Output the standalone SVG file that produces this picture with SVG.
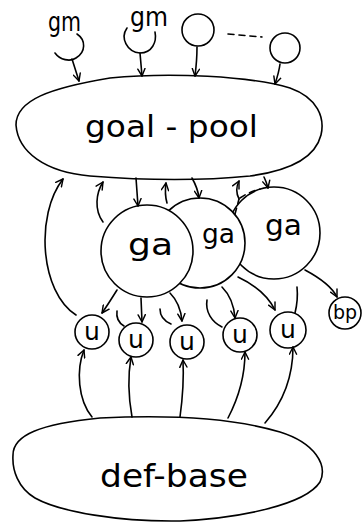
<svg xmlns="http://www.w3.org/2000/svg" width="364" height="523" viewBox="0 0 364 523">
<style>
.ln{fill:none;stroke:#000;stroke-width:1.6;stroke-linecap:round;stroke-linejoin:round}
.nd{fill:#fff;stroke:#000;stroke-width:1.6}
.tx{font-family:"DejaVu Sans","Liberation Sans",sans-serif;fill:#000}
.ut{font-family:"DejaVu Sans","Liberation Sans",sans-serif;font-size:25px;text-anchor:middle;fill:#000}
.ar{marker-end:url(#ah)}
.da{stroke-dasharray:6 5}
</style>
<defs>
<marker id="ah" viewBox="0 0 10 10" refX="9" refY="5" markerWidth="9" markerHeight="9" orient="auto" markerUnits="userSpaceOnUse">
<path d="M1,1 L9,5 L1,9" fill="none" stroke="#000" stroke-width="1.6" stroke-linecap="round" stroke-linejoin="round"/>
</marker>
</defs>
<rect width="364" height="523" fill="#fff"/>

<g id="gm1">
<text class="tx" x="48" y="31" font-size="26" textLength="33" lengthAdjust="spacingAndGlyphs">gm</text>
<path class="ln" d="M77,34 C86,40 86,52 76,58 C70,62 60,60 55,53"/>
</g>
<g id="gm2">
<text class="tx" x="130" y="26" font-size="26" textLength="38" lengthAdjust="spacingAndGlyphs">gm</text>
<path class="ln" d="M127,28 C120,38 127,52 140,53 C152,53 157,42 155,32"/>
</g>
<g id="m3"><circle class="nd" cx="198" cy="30" r="16"/></g>
<g id="m4"><circle class="nd" cx="285" cy="48" r="15"/></g>

<g id="goal-pool">
<path class="nd" d="M16,125 C16,100 50,88 110,78 C170,72 250,76 290,88 C318,98 325,118 321,135 C316,155 295,170 250,176 C200,181 140,180 90,176 C45,172 18,152 16,125 Z"/>
<text class="tx" x="85" y="137" font-size="30" textLength="173" lengthAdjust="spacingAndGlyphs">goal - pool</text>
</g>

<g id="ga3">
<circle class="nd" cx="274" cy="233" r="46"/>
<text class="tx" x="265" y="235" font-size="28" textLength="37" lengthAdjust="spacingAndGlyphs">ga</text>
</g>
<g id="ga2">
<circle class="nd" cx="200" cy="243" r="45"/>
<text class="tx" x="202" y="243" font-size="26" textLength="33" lengthAdjust="spacingAndGlyphs">ga</text>
</g>
<g id="ga1">
<circle class="nd" cx="147" cy="251" r="46"/>
<text class="tx" x="128" y="255" font-size="30" textLength="45" lengthAdjust="spacingAndGlyphs">ga</text>
</g>

<g id="u1"><circle class="nd" cx="92" cy="332" r="17"/><text class="ut" x="92" y="340">u</text></g>
<g id="u2"><circle class="nd" cx="136" cy="340" r="17"/><text class="ut" x="136" y="348">u</text></g>
<g id="u3"><circle class="nd" cx="187" cy="342" r="17"/><text class="ut" x="187" y="350">u</text></g>
<g id="u4"><circle class="nd" cx="240" cy="335" r="17"/><text class="ut" x="240" y="343">u</text></g>
<g id="u5"><circle class="nd" cx="288" cy="330" r="18"/><text class="ut" x="288" y="338">u</text></g>
<g id="bp"><circle class="nd" cx="345" cy="313" r="16"/><text class="ut" x="345" y="319" style="font-size:19px">bp</text></g>

<g id="def-base">
<path class="nd" d="M13,455 C13,435 40,424 100,418 C160,415 230,417 280,432 C315,443 328,465 320,482 C305,505 240,518 180,521 C120,522 60,512 35,498 C18,488 12,470 13,455 Z"/>
<text class="tx" x="100" y="487" font-size="32" textLength="148" lengthAdjust="spacingAndGlyphs">def-base</text>
</g>

<g id="connectors">
<path class="ln ar" d="M72,59 L79,81"/>
<path class="ln ar" d="M140,53 L142,76"/>
<path class="ln ar" d="M197,47 C197,58 196,68 195,76"/>
<path class="ln ar" d="M280,64 C279,72 277,78 275,84"/>
<path class="ln da" d="M228,34 L262,37"/>

<path class="ln ar" d="M76,315 C40,292 35,215 63,179"/>
<path class="ln ar" d="M103,222 C94,210 96,193 103,182"/>
<path class="ln ar" d="M136,178 L138,206"/>
<path class="ln ar" d="M167,203 C165,196 165,190 166,183"/>
<path class="ln ar" d="M192,178 C196,185 198,190 199,198"/>
<path class="ln ar" d="M239,199 C236,193 236,187 239,181"/>
<path class="ln da" d="M235,214 L239,199"/>
<path class="ln da" d="M240,198 C246,194 252,191 260,189"/>
<path class="ln ar" d="M264,177 C266,181 267,184 268,188"/>

<path class="ln ar" d="M117,290 C112,298 107,306 102,313"/>
<path class="ln ar" d="M141,298 L142,322"/>
<path class="ln ar" d="M170,293 C177,300 181,310 182,321"/>
<path class="ln ar" d="M222,287 C230,295 234,305 235,318"/>
<path class="ln ar" d="M238,277 C255,285 268,296 275,310"/>
<path class="ln ar" d="M305,270 C320,278 332,287 337,297"/>

<path class="ln" d="M117,311 C116,318 119,323 124,326"/>
<path class="ln" d="M160,309 C160,316 164,321 171,324"/>
<path class="ln" d="M207,300 C205,312 212,322 222,327"/>
<path class="ln" d="M297,287 C298,297 297,305 295,313"/>

<path class="ln ar" d="M92,417 C78,400 76,370 84,350"/>
<path class="ln ar" d="M132,417 C128,395 128,375 131,357"/>
<path class="ln ar" d="M180,417 C183,395 184,380 183,360"/>
<path class="ln ar" d="M228,418 C240,395 245,375 245,352"/>
<path class="ln ar" d="M265,423 C285,400 293,375 293,347"/>
</g>
</svg>
